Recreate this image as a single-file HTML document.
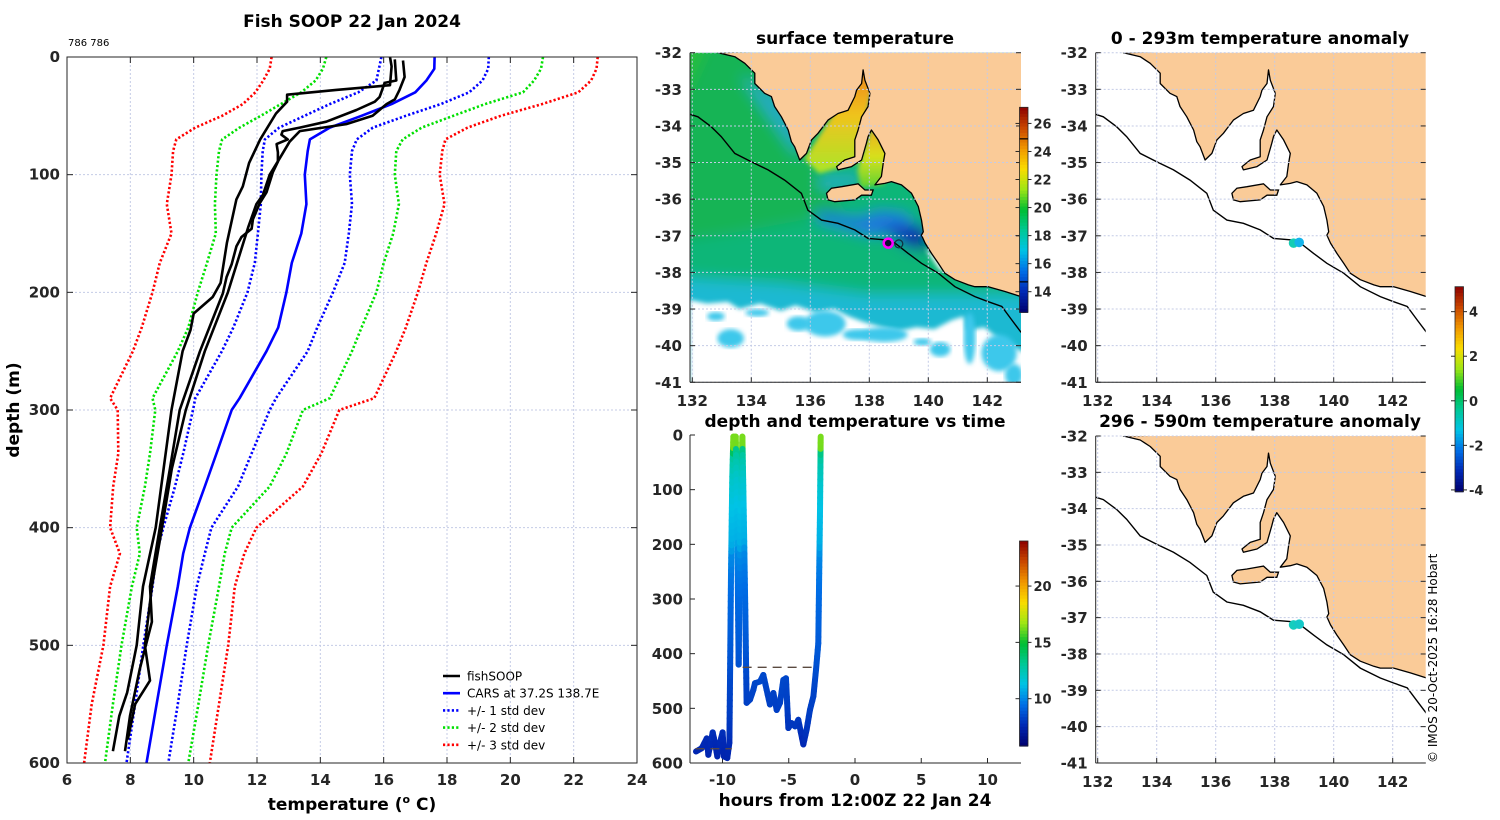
<!DOCTYPE html>
<html><head><meta charset="utf-8"><title>Fish SOOP 22 Jan 2024</title>
<style>
html,body{margin:0;padding:0;background:#fff;}
svg{display:block;font-family:"DejaVu Sans","Liberation Sans",sans-serif;}
.tk{font-size:15px;font-weight:bold;fill:#262626;}
.ti{font-size:17px;font-weight:bold;fill:#000;}
.lg{font-size:12px;fill:#000;}
.cb{font-size:13px;font-weight:bold;fill:#262626;}
</style></head>
<body>
<svg id="fig" width="1500" height="820" viewBox="0 0 1500 820" xmlns="http://www.w3.org/2000/svg">
<defs>
  <clipPath id="clipL"><rect x="67" y="57" width="570" height="706"/></clipPath>
  <clipPath id="clipM"><rect x="690" y="52.7" width="331" height="329.6"/></clipPath>
  <clipPath id="clipR1"><rect x="1095.7" y="52.7" width="330" height="329.6"/></clipPath>
  <clipPath id="clipR2"><rect x="1095.7" y="436" width="330" height="327"/></clipPath>
  <clipPath id="clipT"><rect x="690" y="430" width="331" height="333"/></clipPath>
  <filter id="blur" x="-10%" y="-10%" width="120%" height="120%"><feGaussianBlur stdDeviation="7"/></filter>
  <filter id="blurS" x="-10%" y="-10%" width="120%" height="120%"><feGaussianBlur stdDeviation="2.5"/></filter>
  <linearGradient id="gSpencer" x1="0" y1="0" x2="0" y2="1">
    <stop offset="0" stop-color="rgb(235,130,30)"/><stop offset="0.45" stop-color="rgb(240,195,30)"/><stop offset="1" stop-color="rgb(170,230,40)"/>
  </linearGradient>
  <linearGradient id="gVincent" x1="0" y1="0" x2="0" y2="1">
    <stop offset="0" stop-color="rgb(240,170,30)"/><stop offset="0.5" stop-color="rgb(215,225,30)"/><stop offset="1" stop-color="rgb(90,210,50)"/>
  </linearGradient>
</defs>

<text class="ti" x="352" y="27" text-anchor="middle">Fish SOOP 22 Jan 2024</text>
<text x="68" y="46" font-size="10" fill="#000">786 786</text>
<text class="ti" x="0" y="0" text-anchor="middle" transform="translate(19,410) rotate(-90)">depth (m)</text>
<text class="ti" x="352" y="810" text-anchor="middle">temperature (<tspan font-size="11" dy="-7">o</tspan><tspan dy="7"> C)</tspan></text>
<text class="ti" x="855" y="44" text-anchor="middle">surface temperature</text>
<text class="ti" x="855" y="427" text-anchor="middle">depth and temperature vs time</text>
<text class="ti" x="855" y="806" text-anchor="middle">hours from 12:00Z 22 Jan 24</text>
<text class="ti" x="1260" y="44" text-anchor="middle">0 - 293m temperature anomaly</text>
<text class="ti" x="1260" y="427" text-anchor="middle">296 - 590m temperature anomaly</text>
<text x="0" y="0" font-size="12" fill="#000" transform="translate(1437,763) rotate(-90)">© IMOS 20-Oct-2025 16:28 Hobart</text>

<g id="gLeft"></g>
<g id="gMap"></g>
<g id="gTrack"></g>
<g id="gR1"></g>
<g id="gR2"></g>
</svg>

<script>
// ---------------- Profile chart data ----------------
const stdDepths = [0,10,20,30,40,50,60,70,80,100,125,150,175,200,230,250,290,300,337,365,400,422,450,500,550,600];
const carsMean  = [17.61,17.6,17.35,17.0,16.25,15.3,14.3,13.67,13.6,13.51,13.56,13.4,13.1,12.93,12.67,12.3,11.45,11.2,10.72,10.35,9.88,9.67,9.5,9.15,8.83,8.51];
const minus1    = [15.93,15.85,15.77,15.2,14.3,13.5,12.7,12.25,12.18,12.14,12.12,12.03,11.93,11.7,11.25,10.89,10.05,9.98,9.67,9.41,9.04,8.83,8.7,8.41,8.15,7.88];
const minus2    = [14.19,14.08,13.85,13.4,12.75,12.12,11.45,10.9,10.8,10.72,10.67,10.7,10.42,10.13,9.83,9.5,8.7,8.79,8.62,8.46,8.2,8.3,8.05,7.72,7.45,7.2];
const minus3    = [12.46,12.4,12.2,11.95,11.55,10.9,10.05,9.45,9.35,9.3,9.15,9.3,8.93,8.7,8.36,8.08,7.36,7.6,7.62,7.46,7.36,7.67,7.36,7.15,6.78,6.54];
const plus1     = [19.32,19.3,19.12,18.7,17.8,16.7,15.66,15.15,15.0,14.93,15.0,14.9,14.77,14.4,13.9,13.6,12.6,12.4,11.83,11.4,10.56,10.35,10.1,9.78,9.5,9.2];
const plus2     = [21.03,20.97,20.75,20.4,19.2,18.2,17.2,16.6,16.4,16.35,16.48,16.3,16.0,15.77,15.3,15.0,14.3,13.45,12.93,12.4,11.2,10.98,10.8,10.46,10.15,9.83];
const plus3     = [22.76,22.72,22.55,22.15,21.0,19.7,18.65,17.95,17.85,17.77,17.92,17.66,17.35,17.08,16.7,16.4,15.7,14.6,14.03,13.45,11.98,11.6,11.3,11.09,10.8,10.51];

const soopADepth = [0,8,24,28,32,38,48,70,90,110,121,158,192,204,218,232,250,300,350,400,450,500,540,560,590];
const soopATemp  = [16.2,16.25,16.2,14.5,12.95,12.95,12.6,12.1,11.75,11.55,11.35,11.05,10.85,10.6,10.0,9.9,9.65,9.3,9.05,8.8,8.4,8.2,7.9,7.65,7.45];
const soopBDepth = [2,20,22,34,38,45,55,60,63,66,70,74,81,89,98,115,124,138,146,153,161,176,187,201,250,300,350,400,450,480,520,560,590];
const soopBTemp  = [16.35,16.4,16.03,15.87,15.72,15.14,14.19,13.35,12.81,12.77,12.97,12.62,12.66,12.66,12.5,12.3,12.09,11.87,11.83,11.51,11.35,11.2,11.04,10.92,10.2,9.56,9.25,8.93,8.62,8.68,8.3,7.99,7.83];
const soopCDepth = [3,17,28,36,40,50,57,60,63,72,86,100,117,125,145,200,250,300,350,400,450,500,530,550,580];
const soopCTemp  = [16.61,16.66,16.5,16.35,16.09,15.65,14.82,14.08,13.35,13.03,12.72,12.4,12.19,11.98,11.72,11.08,10.35,9.75,9.31,9.0,8.68,8.46,8.62,8.15,7.92];

const tempTicks  = [6,8,10,12,14,16,18,20,22,24];
const depthTicks = [0,100,200,300,400,500,600];
const legendLabels = ["fishSOOP","CARS at 37.2S 138.7E","+/- 1 std dev","+/- 2 std dev","+/- 3 std dev"];

// ---------------- Track chart data ----------------
const trackHours = [-12.0,-11.57,-11.19,-11.07,-10.74,-10.57,-10.39,-10.19,-9.99,-9.89,-9.64,-9.48,-9.43,-9.36,-9.26,-9.18,-9.0,-8.9,-8.78,-8.66,-8.5,-8.4,-8.28,-8.18,-7.92,-7.67,-7.55,-7.17,-6.92,-6.67,-6.42,-6.16,-5.91,-5.66,-5.41,-5.21,-5.03,-4.78,-4.53,-4.28,-3.9,-3.65,-3.4,-3.14,-2.94,-2.77,-2.64,-2.59];
const trackDepth = [579,573,555,585,544,563,588,563,544,588,591,563,441,259,76,3,3,150,420,150,3,137,320,490,484,466,454,451,439,466,493,472,503,490,448,445,536,527,533,521,566,539,503,478,429,381,137,3];
const hourTicks  = [-10,-5,0,5,10];
const trackDepthTicks = [0,100,200,300,400,500,600];
const dashDepths = [425,574];
const dashStart  = [-8.48,-12.05];
const dashEnd    = [-2.94,-9.3];

// ---------------- Map data ----------------
const lonTicks = [132,134,136,138,140,142];
const latTicks = [-32,-33,-34,-35,-36,-37,-38,-39,-40,-41];
const sstTicks = [14,16,18,20,22,24,26];
const trackCbTicks = [10,15,20];
const anomTicks = [-4,-2,0,2,4];
const dotLon = [138.64,138.83];
const dotLat = [-37.2,-37.18];

const coastLon = [132.87,133.44,133.78,134.12,134.12,134.45,134.68,134.79,135.02,135.25,135.36,135.47,135.64,135.87,136.04,136.26,136.6,136.94,137.28,137.51,137.57,137.74,137.79,137.85,138.02,137.96,137.74,137.62,137.51,137.51,137.17,136.89,136.94,137.4,137.74,137.9,137.96,138.07,138.3,138.53,138.47,138.41,138.19,138.53,138.75,139.09,139.43,139.66,139.77,139.83,139.77,139.89,140.11,140.34,140.56,140.9,141.36,141.58,142.03,142.6,143.3,143.3];
const coastLat = [-32,-32.11,-32.29,-32.56,-32.84,-33.11,-33.2,-33.47,-33.75,-34.11,-34.43,-34.57,-34.93,-34.75,-34.38,-34.2,-33.84,-33.66,-33.57,-33.2,-33.02,-32.84,-32.47,-32.75,-33.11,-33.47,-33.75,-34.11,-34.38,-34.84,-34.93,-35.11,-35.2,-35.11,-34.93,-34.47,-34.29,-34.11,-34.38,-34.75,-35.02,-35.38,-35.61,-35.57,-35.52,-35.61,-35.84,-36.2,-36.57,-36.89,-36.98,-37.2,-37.48,-37.75,-38.02,-38.2,-38.34,-38.39,-38.39,-38.52,-38.7,-31.8];
const kiLon = [136.55,136.72,137.06,137.62,137.85,138.13,138.07,137.74,137.51,136.83,136.6];
const kiLat = [-35.84,-35.7,-35.66,-35.58,-35.75,-35.75,-35.89,-35.89,-36.02,-36.07,-36.02];
const shelfLon = [131.8,132.19,132.64,132.98,133.44,134.0,134.57,135.13,135.7,135.92,136.38,136.94,137.51,137.96,138.53,138.87,139.32,139.77,140.34,140.9,141.58,142.03,142.49,142.83,143.13,143.3];
const shelfLat = [-33.65,-33.75,-34.02,-34.29,-34.75,-34.98,-35.2,-35.48,-35.84,-36.3,-36.57,-36.66,-36.84,-37.07,-37.11,-37.2,-37.48,-37.75,-38.02,-38.39,-38.66,-38.8,-38.93,-39.3,-39.62,-39.75];

// ---------------- helpers ----------------
const NS = 'http://www.w3.org/2000/svg';
function mk(tag, attrs, parent){ const e=document.createElementNS(NS,tag); for(const k in attrs) e.setAttribute(k,attrs[k]); parent.appendChild(e); return e; }
const cmStops=[[0,0,0,110],[0.1,0,40,180],[0.2,0,110,230],[0.3,0,195,230],[0.4,0,200,150],[0.5,0,190,50],[0.6,160,230,20],[0.7,250,220,0],[0.8,240,150,0],[0.9,200,70,0],[1,140,0,0]];
function jet(x){ x=Math.max(0,Math.min(1,x));
  for(let i=1;i<cmStops.length;i++){ if(x<=cmStops[i][0]){ const a=cmStops[i-1],b=cmStops[i],f=(x-a[0])/(b[0]-a[0]);
    return 'rgb('+Math.round(a[1]+f*(b[1]-a[1]))+','+Math.round(a[2]+f*(b[2]-a[2]))+','+Math.round(a[3]+f*(b[3]-a[3]))+')'; } }
  return 'rgb(140,0,0)'; }
function interp(xs, ys, x){ if(x<=xs[0]) return ys[0]; for(let i=1;i<xs.length;i++){ if(x<=xs[i]){ const f=(x-xs[i-1])/(xs[i]-xs[i-1]); return ys[i-1]+f*(ys[i]-ys[i-1]); } } return ys[ys.length-1]; }

// ---------------- Left profile chart ----------------
(function(){
  const g = document.getElementById('gLeft');
  const tx = t => 67 + (t-6)*(570/18);
  const ty = d => 57 + d*(706/600);
  let e;
  tempTicks.forEach(t=>{
    e = mk('line',{x1:tx(t),x2:tx(t),y1:57,y2:763,stroke:'#c4cbe6','stroke-width':1,'stroke-dasharray':'2 2'},g);
    
    
    e = mk('text',{x:tx(t),y:785,'text-anchor':'middle',class:'tk'},g); e.textContent=t;
    
    
    mk('line',{x1:tx(t),x2:tx(t),y1:763,y2:757,stroke:'#262626'},g);
    mk('line',{x1:tx(t),x2:tx(t),y1:57,y2:63,stroke:'#262626'},g);
  });
  depthTicks.forEach(d=>{
    e = mk('line',{x1:67,x2:637,y1:ty(d),y2:ty(d),stroke:'#c4cbe6','stroke-width':1,'stroke-dasharray':'2 2'},g);
    
    
    e = mk('text',{x:60,y:ty(d)+5,'text-anchor':'end',class:'tk'},g); e.textContent=d;
    
    
    mk('line',{x1:67,x2:73,y1:ty(d),y2:ty(d),stroke:'#262626'},g);
    mk('line',{x1:637,x2:631,y1:ty(d),y2:ty(d),stroke:'#262626'},g);
  });
  const pg = mk('g',{'clip-path':'url(#clipL)'},g);
  function line(depths,temps,color,dotted,name){
    const pts = depths.map((d,i)=>tx(temps[i]).toFixed(1)+','+ty(d).toFixed(1)).join(' ');
    const el = mk('polyline',{points:pts,fill:'none',stroke:color,'stroke-width':2.6,'stroke-linejoin':'round','stroke-dasharray':dotted?'2.2 2.2':'none'},pg);
    
    
  }
  line(stdDepths,minus3,'#ff0000',true,'minus-3-std-line');
  line(stdDepths,plus3,'#ff0000',true,'plus-3-std-line');
  line(stdDepths,minus2,'#00e000',true,'minus-2-std-line');
  line(stdDepths,plus2,'#00e000',true,'plus-2-std-line');
  line(stdDepths,minus1,'#0000ff',true,'minus-1-std-line');
  line(stdDepths,plus1,'#0000ff',true,'plus-1-std-line');
  line(stdDepths,carsMean,'#0000ff',false,'cars-mean-line');
  line(soopADepth,soopATemp,'#000',false,'fishsoop-profile-a');
  line(soopBDepth,soopBTemp,'#000',false,'fishsoop-profile-b');
  line(soopCDepth,soopCTemp,'#000',false,'fishsoop-profile-c');
  e = mk('rect',{x:67,y:57,width:570,height:706,fill:'none',stroke:'#262626','stroke-width':1},g);
  
  
  const lg = mk('g',{},g);
  
  
  const cols=['#000','#0000ff','#0000ff','#00e000','#ff0000'];
  legendLabels.forEach((lab,i)=>{
    const y=676+i*17.2;
    const ent = mk('g',{},lg);
    
    
    mk('line',{x1:443,x2:460,y1:y,y2:y,stroke:cols[i],'stroke-width':2.6,'stroke-dasharray':i>=2?'2.2 2.2':'none'},ent);
    const t = mk('text',{x:467,y:y+4.5,class:'lg'},ent); t.textContent=lab;
  });
})();

// ---------------- Map helpers ----------------
function mapFns(x132, y32, latScale){ const ls=29.5; return { X:lon=>x132+(lon-132)*ls, Y:lat=>y32+(-32-lat)*latScale }; }
function ptsOf(f,lons,lats){ return lons.map((l,i)=>f.X(l).toFixed(1)+','+f.Y(lats[i]).toFixed(1)).join(' '); }
function drawMapFrame(g,f,left,right,top,bottom,labelY){
  let e;
  lonTicks.forEach(l=>{
    e=mk('line',{x1:f.X(l),x2:f.X(l),y1:top,y2:bottom,stroke:'#c4cbe6','stroke-dasharray':'2 2'},g);
    
    
    mk('line',{x1:f.X(l),x2:f.X(l),y1:bottom,y2:bottom-5,stroke:'#262626'},g);
    e=mk('text',{x:f.X(l),y:labelY,'text-anchor':'middle',class:'tk'},g); e.textContent=l;
    
    
  });
  latTicks.forEach(l=>{
    const y=f.Y(l);
    e=mk('line',{x1:left,x2:right,y1:y,y2:y,stroke:'#c4cbe6','stroke-dasharray':'2 2'},g);
    
    
    mk('line',{x1:left,x2:left+5,y1:y,y2:y,stroke:'#262626'},g);
    mk('line',{x1:right,x2:right-5,y1:y,y2:y,stroke:'#262626'},g);
    e=mk('text',{x:left-8,y:y+5.5,'text-anchor':'end',class:'tk'},g); e.textContent=l;
    
    
  });
}
function drawCoast(g,f){
  let e=mk('polygon',{points:ptsOf(f,coastLon,coastLat),fill:'#facb98',stroke:'#000','stroke-width':1.3,'stroke-linejoin':'round'},g);
  
  
  e=mk('polygon',{points:ptsOf(f,kiLon,kiLat),fill:'#facb98',stroke:'#000','stroke-width':1.3},g);
  
  
  e=mk('polyline',{points:ptsOf(f,shelfLon,shelfLat),fill:'none',stroke:'#000','stroke-width':1.4},g);
  
  
}
function colorbar(g,x,top,bottom,vmin,vmax,ticks,name){
  const cg=mk('g',{},g);
  
  
  const n=64, h=(bottom-top)/n;
  for(let i=0;i<n;i++){ mk('rect',{x:x,y:top+i*h,width:8.5,height:h+0.6,fill:jet(1-(i+0.5)/n)},cg); }
  mk('rect',{x:x,y:top,width:8.5,height:bottom-top,fill:'none',stroke:'#262626','stroke-width':0.8},cg);
  ticks.forEach(t=>{
    const y=bottom-(t-vmin)/(vmax-vmin)*(bottom-top);
    mk('line',{x1:x-4,x2:x,y1:y,y2:y,stroke:'#262626'},cg);
    mk('line',{x1:x+8.5,x2:x+12,y1:y,y2:y,stroke:'#262626'},cg);
    const e=mk('text',{x:x+14,y:y+5,class:'cb'},cg); e.textContent=t;
  });
  return cg;
}

// ---------------- SST map ----------------
(function(){
  const g=document.getElementById('gMap');
  const f=mapFns(692.3,52.7,36.62);
  const cg=mk('g',{'clip-path':'url(#clipM)'},g);
  const fld=mk('g',{filter:'url(#blur)'},cg);
  
  
  const P=(lons,lats,fill,par)=>mk('polygon',{points:ptsOf(f,lons,lats),fill:fill},par||fld);
  mk('rect',{x:660,y:30,width:400,height:380,fill:'rgb(15,182,120)'},fld);
  P([131,134,135.5,136.5,137.2,135.5,133.5,131],[-31,-31,-34,-35.6,-36.3,-36.6,-36.9,-37.2],'rgb(25,180,85)');
  P([131,133,131],[-31,-31,-34.5],'rgb(40,190,60)');
  P([133.6,135.6,135.6,134.8],[-32.6,-34.9,-34.2,-33.2],'rgb(40,170,200)');
  P([136.2,137.6,138.4,139.3,139.6,138,136.2],[-36.3,-36.5,-36.3,-36.4,-36.9,-37.0,-36.6],'rgb(30,120,220)');
  P([138.4,139.9,140.0,139.5,138.9],[-36.8,-36.7,-37.2,-37.4,-37.1],'rgb(10,50,180)');
  P([139.3,139.9,140.2,139.7],[-37.05,-36.95,-37.4,-37.3],'rgb(0,20,140)');
  P([131,135,138,140,141.5,143.5,143.5,131],[-38.1,-38.3,-38.6,-38.6,-38.6,-38.6,-41,-41],'rgb(30,185,210)');
  P([136.3,137.8,137.6,136.3],[-35.4,-35.35,-35.6,-35.75],'rgb(40,170,200)');
  const fs=mk('g',{filter:'url(#blurS)'},cg);
  P([135.8,137.8,138.1,137.6,136.3],[-34.9,-32.4,-33.0,-35.0,-35.3],'url(#gSpencer)',fs);
  P([137.6,138.1,138.7,138.5,137.7],[-35.2,-34.0,-34.8,-35.6,-35.7],'url(#gVincent)',fs);
  const wg=mk('g',{},cg);
  
  
  mk('polygon',{points:ptsOf(f,[131.9,132.5,133.2,133.6,134.3,135,135.5,136.2,136.8,137.3,137.8,138.4,139,139.6,140.2,140.8,141.2,141.3,141.9,142.5,143.3,143.3,131.9],[-38.75,-38.85,-38.8,-39.0,-38.85,-39.05,-38.9,-39.1,-39.0,-39.2,-39.35,-39.5,-39.6,-39.5,-39.55,-39.3,-39.2,-39.6,-39.5,-39.9,-40.2,-41.2,-41.2]),fill:'#fff',filter:'url(#blurS)'},wg);
  const bl=[[133.3,-39.8,0.45,0.25],[135.6,-39.4,0.4,0.2],[136.5,-39.4,0.7,0.35],[137.6,-39.7,0.5,0.15],[138.5,-39.7,0.8,0.2],[140.4,-40.1,0.35,0.2],[141.4,-39.8,0.2,0.7],[142.4,-40.2,0.6,0.5],[132.8,-39.2,0.3,0.12],[139.8,-39.9,0.3,0.1],[134.2,-39.1,0.4,0.1],[142.9,-40.8,0.3,0.3]];
  bl.forEach(b=>{ mk('ellipse',{cx:f.X(b[0]),cy:f.Y(b[1]),rx:b[2]*29.5,ry:b[3]*36.6,fill:'rgb(60,200,235)',filter:'url(#blurS)'},wg); });
  mk('polygon',{points:ptsOf(f,[139.9,140.25,140.7,140.4],[-37.35,-37.5,-37.95,-37.95]),fill:'#fff',filter:'url(#blurS)'},wg);
  drawCoast(cg,f);
  drawMapFrame(g,f,690,1021,52.7,382.3,406);
  let e=mk('line',{x1:690,x2:690,y1:52.7,y2:382.3,stroke:'#262626'},g);
  e=mk('line',{x1:690,x2:1021,y1:382.3,y2:382.3,stroke:'#262626'},g);
  e=mk('circle',{cx:f.X(dotLon[0]),cy:f.Y(dotLat[0]),r:4.5,fill:'#101030',stroke:'#ff00ff','stroke-width':2.5},g);
  
  
  e=mk('circle',{cx:f.X(139.0),cy:f.Y(-37.22),r:4,fill:'none',stroke:'#103040','stroke-width':1.3},g);
  
  
  const cb=colorbar(g,1019.5,107.3,312.3,12.53,27.15,sstTicks,'sst-colorbar');
  const ly=v=>312.3-(v-12.53)/(27.15-12.53)*205;
  mk('line',{x1:1019.5,x2:1028,y1:ly(24.9),y2:ly(24.9),stroke:'#000','stroke-width':1.2},cb);
  mk('line',{x1:1019.5,x2:1028,y1:ly(14.7),y2:ly(14.7),stroke:'#000','stroke-width':1.2},cb);
})();

// ---------------- Track chart ----------------
(function(){
  const g=document.getElementById('gTrack');
  const hx=h=>855+h*13.25;
  const hy=d=>435+d*(328/600);
  let e;
  mk('line',{x1:690,x2:690,y1:435,y2:763,stroke:'#262626'},g);
  mk('line',{x1:690,x2:1021,y1:763,y2:763,stroke:'#262626'},g);
  hourTicks.forEach(h=>{
    mk('line',{x1:hx(h),x2:hx(h),y1:763,y2:758,stroke:'#262626'},g);
    e=mk('text',{x:hx(h),y:785,'text-anchor':'middle',class:'tk'},g); e.textContent=h;
    
    
  });
  trackDepthTicks.forEach(d=>{
    mk('line',{x1:690,x2:695,y1:hy(d),y2:hy(d),stroke:'#262626'},g);
    e=mk('text',{x:683,y:hy(d)+5.5,'text-anchor':'end',class:'tk'},g); e.textContent=d;
    
    
  });
  const tg=mk('g',{'clip-path':'url(#clipT)'},g);
  
  
  for(let i=1;i<trackHours.length;i++){
    const d0=trackDepth[i-1], d1=trackDepth[i];
    const steps=Math.max(1,Math.ceil(Math.abs(d1-d0)/12));
    for(let s=0;s<steps;s++){
      const a=s/steps,b=(s+1)/steps;
      const h0=trackHours[i-1]+(trackHours[i]-trackHours[i-1])*a, h1=trackHours[i-1]+(trackHours[i]-trackHours[i-1])*b;
      const da=d0+(d1-d0)*a, db=d0+(d1-d0)*b;
      const t=interp(soopADepth,soopATemp,(da+db)/2);
      mk('line',{x1:hx(h0),y1:hy(da),x2:hx(h1),y2:hy(db),stroke:jet((t-5.8)/18.2),'stroke-width':6,'stroke-linecap':'round'},tg);
    }
  }
  dashDepths.forEach((d,i)=>{
    e=mk('line',{x1:hx(dashStart[i]),x2:hx(dashEnd[i]),y1:hy(d),y2:hy(d),stroke:'#5a4a40','stroke-width':1.3,'stroke-dasharray':'9 6'},g);
    
    
  });
  colorbar(g,1019.5,541,746,5.8,24,trackCbTicks,'track-colorbar');
})();

// ---------------- Anomaly maps ----------------
function anomalyMap(id,y32,latScale,top,bottom,labelY,clip,cols){
  const g=document.getElementById(id);
  const f=mapFns(1097.7,y32,latScale);
  const cg=mk('g',{'clip-path':'url('+clip+')'},g);
  drawCoast(cg,f);
  drawMapFrame(g,f,1095.7,1425.7,top,bottom,labelY);
  mk('line',{x1:1095.7,x2:1095.7,y1:top,y2:bottom,stroke:'#262626'},g);
  mk('line',{x1:1095.7,x2:1425.7,y1:bottom,y2:bottom,stroke:'#262626'},g);
  dotLon.forEach((l,i)=>{
    const e=mk('circle',{cx:f.X(l),cy:f.Y(dotLat[i]),r:4.8,fill:cols[i]},g);
    
    
  });
}
anomalyMap('gR1',52.7,36.62,52.7,382.3,406,'#clipR1',['rgb(20,205,180)','rgb(20,180,235)']);
anomalyMap('gR2',436,36.33,436,763,787,'#clipR2',['rgb(20,205,190)','rgb(20,200,200)']);
colorbar(document.getElementById('gR1'),1455,286.7,491.7,-4.08,5.12,anomTicks,'anomaly-colorbar');
</script>
</body></html>
